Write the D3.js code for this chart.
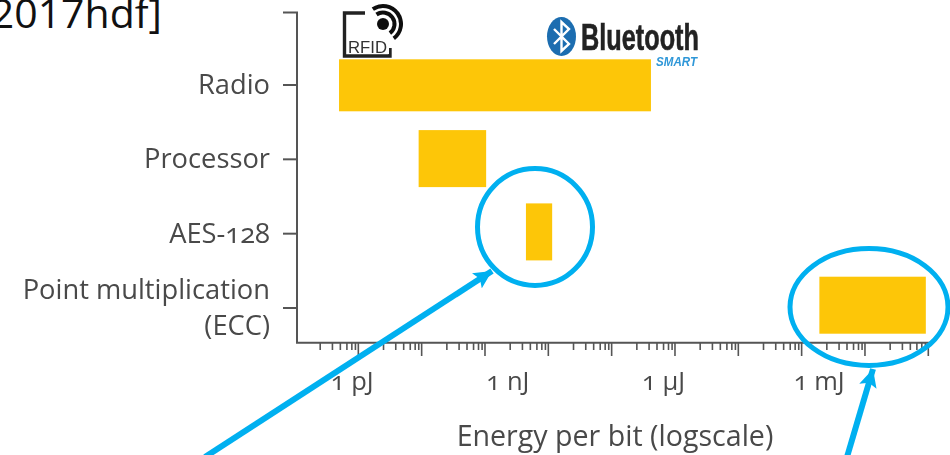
<!DOCTYPE html>
<html>
<head>
<meta charset="utf-8">
<script src="https://cdnjs.cloudflare.com/ajax/libs/d3/7.8.5/d3.min.js"></script>
<style>
  body { margin: 0; background: #fff; }
  svg { display: block; }
  .lbl text { font-family: "Open Sans", sans-serif; font-size: 27.3px; fill: #4a4a4a; font-feature-settings: "onum"; }
</style>
</head>
<body>
<div id="chart"></div>
<script>
// values
var categories = ["Radio", "Processor", "AES-128", "Point multiplication|(ECC)"];
// energy per bit, joules
var lowEnergy = [5.7e-13, 1.95e-11, 2.28e-9, 1.03e-3];
var highEnergy = [5.85e-7, 3.9e-10, 7.3e-9, 0.116];
var energyTicks = [1e-12, 1e-9, 1e-6, 1e-3];
var energyLabels = ["1 pJ", "1 nJ", "1 µJ", "1 mJ"];
// the printed tick marks do not line up with the labels, so they get their own scale
var majorDecades = [1, 2, 3, 4, 5, 6, 7, 8, 9, 10];
var minorSteps = [2.5, 3.9, 5.2, 6.6, 7.9, 9];

var width = 950, height = 455;

var svg = d3.select("#chart").append("svg")
    .attr("width", width)
    .attr("height", height);

var defs = svg.append("defs");
defs.append("filter").attr("id", "soft")
    .append("feGaussianBlur").attr("stdDeviation", 0.5);
defs.append("filter").attr("id", "softer")
    .append("feGaussianBlur").attr("stdDeviation", 0.3);
defs.append("marker")
    .attr("id", "head")
    .attr("viewBox", "0 0 10 10")
    .attr("refX", 10)
    .attr("refY", 5)
    .attr("markerWidth", 18)
    .attr("markerHeight", 18)
    .attr("markerUnits", "userSpaceOnUse")
    .attr("orient", "auto")
    .append("path")
    .attr("d", "M0,0L10,5L0,10L2,5Z")
    .attr("fill", "#00b0f0");

// set the ranges
var x = d3.scaleLog().domain([1e-12, 1e-3]).range([351.7, 818.7]);
var xTicks = d3.scaleLog().domain([1, 1e10]).range([294.5, 927.8]);
var yTicks = d3.scalePoint().domain(categories).range([84.5, 307.5]);
var yBars = d3.scalePoint().domain(categories).range([85.3, 305.2]);
var barHeight = 57;

// cut off slide text at the top left
svg.append("text")
    .text("2017hdf]")
    .attr("x", 162)
    .attr("y", 28)
    .attr("text-anchor", "end")
    .style("font-family", "'Open Sans', sans-serif")
    .style("font-size", "41px")
    .style("fill", "#111");

// bars
svg.selectAll(".bar")
    .data(categories)
    .enter().append("rect")
    .attr("class", "bar")
    .attr("x", function(d, i) { return x(lowEnergy[i]); })
    .attr("width", function(d, i) { return x(highEnergy[i]) - x(lowEnergy[i]); })
    .attr("y", function(d, i) { return yBars(d) - (i === 0 ? barHeight - 5 : barHeight) / 2; })
    .attr("height", function(d, i) { return i === 0 ? barHeight - 5 : barHeight; })
    .attr("fill", "#fdc608");

// axis frame
var axes = svg.append("g").attr("filter", "url(#softer)");
axes.append("path")
    .attr("d", "M283,12.5H297V342.8H932")
    .attr("fill", "none")
    .attr("stroke", "#555")
    .attr("stroke-width", 2);

// Y axis
var yAxis = d3.axisLeft(yTicks)
    .tickSize(14)
    .tickSizeOuter(0)
    .tickPadding(13)
    .tickFormat(function() { return ""; });

var yG = axes.append("g")
    .attr("class", "lbl")
    .attr("transform", "translate(297,0)")
    .call(yAxis);
yG.select(".domain").remove();
yG.selectAll("line").attr("stroke", "#555").attr("stroke-width", 2);
yG.selectAll("text").each(function(d) {
    var parts = d.split("|");
    var t = d3.select(this).attr("dy", null).attr("y", parts.length > 1 ? -9 : 9);
    parts.forEach(function(p, i) {
        t.append("tspan").attr("x", -27).attr("dy", i ? 36 : 0).text(p);
    });
});

// X axis, major and minor marks
var minorValues = [];
d3.range(0, 10).forEach(function(k) {
    minorSteps.forEach(function(s) { minorValues.push(s * Math.pow(10, k)); });
});

var majorG = axes.append("g")
    .attr("transform", "translate(0,343)")
    .call(d3.axisBottom(xTicks)
        .tickValues(majorDecades.map(function(k) { return Math.pow(10, k); }))
        .tickSize(13)
        .tickSizeOuter(0)
        .tickFormat(""));
var minorG = axes.append("g")
    .attr("transform", "translate(0,343)")
    .call(d3.axisBottom(xTicks)
        .tickValues(minorValues)
        .tickSize(7)
        .tickSizeOuter(0)
        .tickFormat(""));
[majorG, minorG].forEach(function(g) {
    g.select(".domain").remove();
    g.selectAll("line").attr("stroke", "#555").attr("stroke-width", 1.6);
});

// X axis labels
var labelG = axes.append("g")
    .attr("class", "lbl")
    .attr("transform", "translate(0,343)")
    .call(d3.axisBottom(x)
        .tickValues(energyTicks)
        .tickSize(0)
        .tickSizeOuter(0)
        .tickPadding(29)
        .tickFormat(function(d, i) { return energyLabels[i]; }));
labelG.select(".domain").remove();
labelG.selectAll("line").remove();
labelG.selectAll("text").style("font-size", "25.5px");

// X axis title
axes.append("g").attr("class", "lbl").append("text")
    .text("Energy per bit (logscale)")
    .attr("x", 615)
    .attr("y", 446)
    .attr("text-anchor", "middle")
    .style("font-size", "28.6px");

// RFID logo
var rfid = svg.append("g").attr("filter", "url(#soft)");
rfid.append("path")
    .attr("d", "M365,13H344.5V56H390V48")
    .attr("fill", "none")
    .attr("stroke", "#222")
    .attr("stroke-width", 3.4);
rfid.append("circle").attr("cx", 383).attr("cy", 24).attr("r", 6).attr("fill", "#111");
[11.5, 18].forEach(function(r) {
    var arc = d3.arc().innerRadius(r - 2).outerRadius(r + 2)
        .startAngle(-0.6).endAngle(2.5);
    rfid.append("path")
        .attr("transform", "translate(383,24)")
        .attr("d", arc())
        .attr("fill", "#111");
});
rfid.append("rect").attr("x", 347).attr("y", 38).attr("width", 42).attr("height", 16).attr("fill", "#fff");
rfid.append("text")
    .text("RFID")
    .attr("x", 348)
    .attr("y", 52.5)
    .attr("textLength", 39)
    .attr("lengthAdjust", "spacingAndGlyphs")
    .style("font-family", "'Liberation Sans', sans-serif")
    .style("font-size", "17px")
    .style("fill", "#333");

// Bluetooth logo
var bt = svg.append("g").attr("filter", "url(#soft)");
bt.append("ellipse")
    .attr("cx", 561.5).attr("cy", 36.5).attr("rx", 14.5).attr("ry", 19.5)
    .attr("fill", "#1a6db0");
bt.append("path")
    .attr("d", "M554,29L569,44L561.5,51V22L569,29L554,44")
    .attr("fill", "none")
    .attr("stroke", "#fff")
    .attr("stroke-width", 2.4);
bt.append("text")
    .text("Bluetooth")
    .attr("x", 581)
    .attr("y", 50)
    .attr("textLength", 118)
    .attr("lengthAdjust", "spacingAndGlyphs")
    .style("font-family", "'Liberation Sans', sans-serif")
    .style("font-weight", "bold")
    .style("font-size", "36px")
    .style("fill", "#222")
    .style("stroke", "#222")
    .style("stroke-width", 0.6);
bt.append("text")
    .text("SMART")
    .attr("x", 656)
    .attr("y", 66)
    .attr("textLength", 41)
    .attr("lengthAdjust", "spacingAndGlyphs")
    .style("font-family", "'Liberation Sans', sans-serif")
    .style("font-weight", "bold")
    .style("font-style", "italic")
    .style("font-size", "12.5px")
    .style("fill", "#2f97d8");

// call-out circles and arrows
var callColor = "#00b0f0";
svg.append("ellipse")
    .attr("cx", 535).attr("cy", 227).attr("rx", 57.5).attr("ry", 58.5)
    .attr("fill", "none").attr("stroke", callColor).attr("stroke-width", 5);
svg.append("ellipse")
    .attr("cx", 869).attr("cy", 307).attr("rx", 79).attr("ry", 58.5)
    .attr("fill", "none").attr("stroke", callColor).attr("stroke-width", 5);
svg.append("line")
    .attr("x1", 205).attr("y1", 457).attr("x2", 492).attr("y2", 271)
    .attr("stroke", callColor).attr("stroke-width", 6)
    .attr("marker-end", "url(#head)");
svg.append("line")
    .attr("x1", 847).attr("y1", 457).attr("x2", 873).attr("y2", 369)
    .attr("stroke", callColor).attr("stroke-width", 6)
    .attr("marker-end", "url(#head)");
</script>
</body>
</html>
